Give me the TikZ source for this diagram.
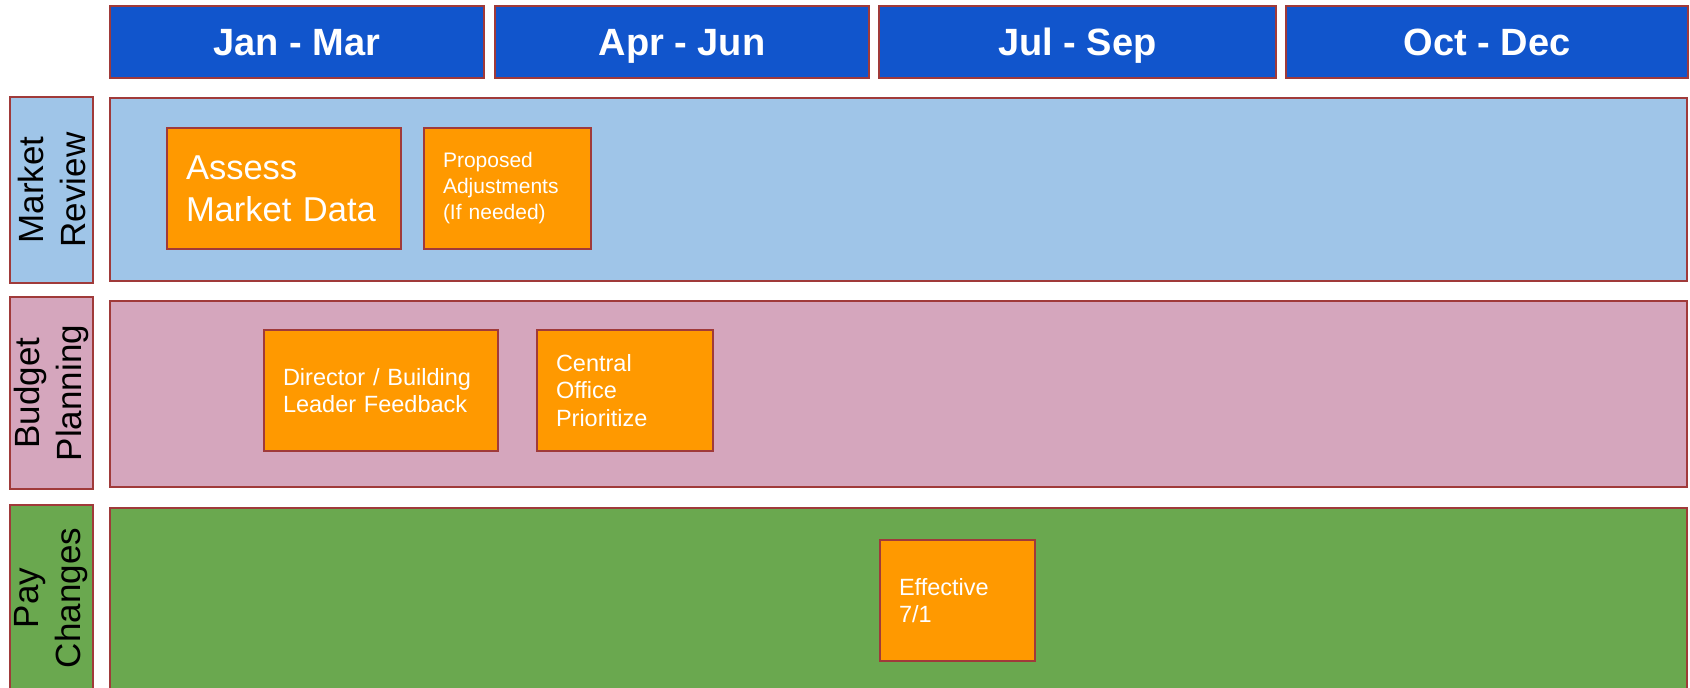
\documentclass[tikz,border=0pt]{standalone}
\usepackage{fontspec}
\setmainfont{Liberation Sans}
\definecolor{quarterblue}{HTML}{1155CC}
\definecolor{edgered}{HTML}{A03A3A}
\definecolor{reviewblue}{HTML}{9FC5E8}
\definecolor{budgetpink}{HTML}{D5A6BD}
\definecolor{paygreen}{HTML}{6AA84F}
\definecolor{taskorange}{HTML}{FF9900}
\begin{document}
\begin{tikzpicture}[x=1pt, y=-1pt,
    box/.style={draw=edgered, line width=1.8pt, rectangle, inner sep=0pt},
    quarter/.style={box, fill=quarterblue, text=white, minimum height=72pt,
      text height=27pt, text depth=0pt,
      font=\fontsize{38}{44}\selectfont\bfseries},
    lane/.style={box, minimum width=1577pt, minimum height=184pt},
    lanelabel/.style={box, rotate=90, minimum width=186pt, minimum height=83pt,
      align=center, font=\fontsize{35}{42}\selectfont},
    task/.style={box, fill=taskorange, text=white, align=left,
      inner xsep=19pt, minimum height=121pt, text width=#1}]
        \clip (0,0) rectangle (1690,688);
        \node[quarter, minimum width=374pt] (janmar) at (297,42) {Jan - Mar};
        \node[quarter, minimum width=374pt] (aprjun) at (682,42) {Apr - Jun};
        \node[quarter, minimum width=397pt] (julsep) at (1077.5,42) {Jul - Sep};
        \node[quarter, minimum width=402pt] (octdec) at (1487,42) {Oct - Dec};
        \node[lane, fill=reviewblue, minimum height=183pt] (review) at (898.5,189.5) {};
        \node[lane, fill=budgetpink, minimum height=186pt] (budget) at (898.5,394) {};
        \node[lane, fill=paygreen, minimum height=186pt] (pay) at (898.5,601) {};
        \node[lanelabel, fill=reviewblue] (reviewlabel) at (51.5,190) {Market\\Review};
        \node[lanelabel, fill=budgetpink, minimum width=192pt] (budgetlabel) at (51.5,393) {Budget\\Planning};
        \node[lanelabel, fill=paygreen] (paylabel) at (51.5,598) {Pay\\Changes};
        \node[task=196pt, font=\fontsize{34.5}{42}\selectfont] (assess) at (284,188.5) {Assess\\Market Data};
        \node[task=129pt, font=\fontsize{21}{26}\selectfont] (proposed) at (507.5,188.5) {Proposed\\Adjustments\\(If needed)};
        \node[task=196pt, font=\fontsize{23.5}{27.5}\selectfont] (director) at (381,390.5) {Director / Building\\Leader Feedback};
        \node[task=138pt, font=\fontsize{23.5}{27.5}\selectfont] (central) at (625,390.5) {Central\\Office\\Prioritize};
        \node[task=117pt, font=\fontsize{23.5}{27.5}\selectfont] (effective) at (957.5,600.5) {Effective\\7/1};
    \end{tikzpicture}
\end{document}
